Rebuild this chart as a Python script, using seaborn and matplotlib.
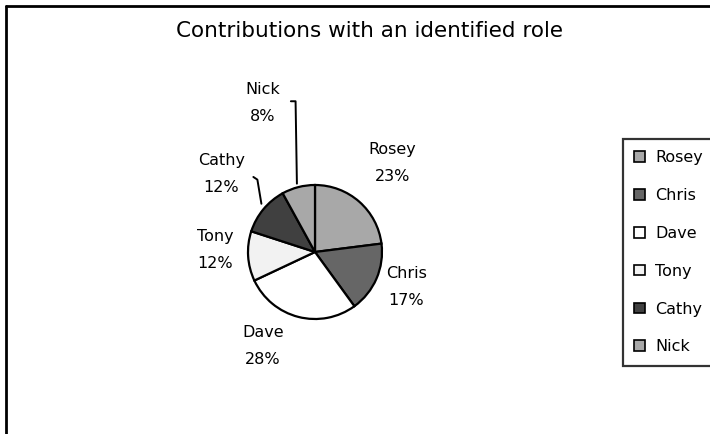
import matplotlib
matplotlib.use("Agg")
import matplotlib.pyplot as plt
from matplotlib.lines import Line2D
from matplotlib.patches import Patch
import numpy as np
import seaborn as sns

names = ["Rosey", "Chris", "Dave", "Tony", "Cathy", "Nick"]
shares = [23, 17, 28, 12, 12, 8]
colors = ["#a8a8a8", "#666666", "#ffffff", "#f2f2f2", "#404040", "#a8a8a8"]
title = "Contributions with an identified role"

sns.set_style("white")
plt.rcParams["font.family"] = ["DejaVu Sans"]
plt.rcParams["text.color"] = "black"

fig = plt.figure(figsize=(7.10, 4.34), dpi=100)
fig.patch.set_facecolor("white")

# pie axes: center ~(315,252)px, radius ~67px
W, H = 710, 434
cx, cy, r = 315, 252, 67
ax = fig.add_axes([(cx - r) / W, (H - cy - r) / H, 2 * r / W, 2 * r / H])
wedges, _ = ax.pie(shares, colors=colors, startangle=90, counterclock=False,
                   radius=1.0,
                   wedgeprops=dict(edgecolor="black", linewidth=1.6))
ax.set_xlim(-1, 1)
ax.set_ylim(-1, 1)
ax.set_aspect("equal")
ax.axis("off")

# label positions (in pie radius units)
label_pos = {
    "Rosey": (1.16, 1.33),
    "Chris": (1.36, -0.52),
    "Dave": (-0.78, -1.41),
    "Tony": (-1.49, 0.03),
    "Cathy": (-1.40, 1.17),
    "Nick": (-0.78, 2.23),
}
for n, s in zip(names, shares):
    x, y = label_pos[n]
    ax.text(x, y, f"{n}\n{s}%", ha="center", va="center", fontsize=11.5,
            linespacing=2.0, clip_on=False, color="black")

# leader lines
ax.plot([-0.36, -0.29, -0.27], [2.25, 2.25, 1.02], color="black", lw=1.4, clip_on=False)
ax.plot([-0.92, -0.86, -0.80], [1.12, 1.08, 0.72], color="black", lw=1.4, clip_on=False)

fig.suptitle(title, x=370 / W, y=1 - 31 / H, va="center", fontsize=15.5, color="black")

handles = [Patch(facecolor=c, edgecolor="black", linewidth=1.2) for c in colors]
leg = fig.legend(handles, names, loc="upper left",
                 bbox_to_anchor=(623 / W, 1 - 139 / H),
                 frameon=True, fontsize=11.5, handlelength=0.65, handleheight=0.65,
                 handletextpad=0.65, labelspacing=1.43, borderpad=0.7,
                 fancybox=False, borderaxespad=0, labelcolor="black")
leg.get_frame().set_edgecolor("black")
leg.get_frame().set_linewidth(1.6)

# outer frame (left and top edges)
fig.add_artist(Line2D([6 / W, 6 / W], [0, 1 - 6 / H], transform=fig.transFigure,
                      color="black", lw=2))
fig.add_artist(Line2D([6 / W, 1], [1 - 6 / H, 1 - 6 / H], transform=fig.transFigure,
                      color="black", lw=2))

fig.savefig("out.png", dpi=100, facecolor="white")
